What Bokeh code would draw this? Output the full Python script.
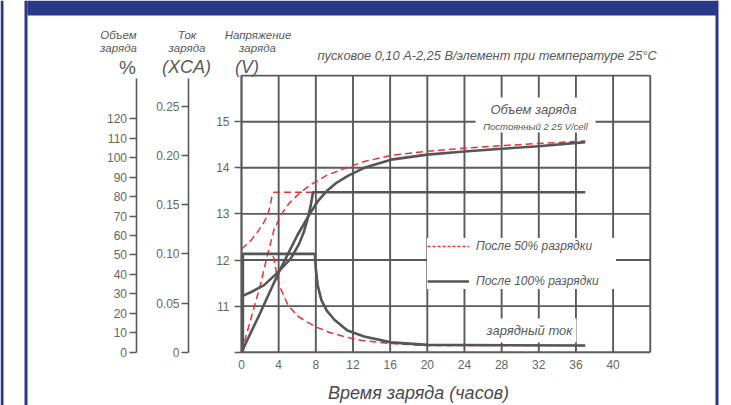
from bokeh.plotting import figure
from bokeh.models import (Range1d, LinearAxis, FixedTicker, PrintfTickFormatter,
                          BoxAnnotation, Label, Legend, LegendItem)
from bokeh.embed import file_html
from bokeh.resources import INLINE

# ---------------- data ----------------
hour_ticks = [0, 4, 8, 12, 16, 20, 24, 28, 32, 36, 40]
grid_hours = [0, 4, 8, 12, 16, 20, 24, 28, 32, 36, 40, 44]
grid_volts = [10, 11, 12, 13, 14, 15, 16]
volt_ticks = [10, 11, 12, 13, 14, 15]
amp_ticks = [0, 0.05, 0.10, 0.15, 0.20, 0.25]
pct_ticks = [0, 10, 20, 30, 40, 50, 60, 70, 80, 90, 100, 110, 120]

# charging voltage (V)
t_volt_100 = [0, 1.0, 2.4, 3.85, 5.3, 6.2, 6.7, 7.1, 7.45, 7.7, 37]
volt_100 = [11.21, 11.3, 11.45, 11.72, 12.03, 12.35, 12.6, 12.88, 13.18, 13.47, 13.47]
t_volt_50 = [0, 1.0, 1.7, 2.3, 2.8, 3.05, 3.3, 3.5, 23]
volt_50 = [12.24, 12.42, 12.6, 12.78, 12.96, 13.15, 13.4, 13.47, 13.47]

# charge volume (%)
t_pct_100 = [0, 2, 4, 6, 7.2, 8.2, 9.2, 10.2, 11.4, 13.2, 16.1, 20, 24, 28, 32, 37]
pct_100 = [0, 20, 41, 60, 70, 77.5, 83, 87, 90.5, 94.8, 99, 101.6, 103.2, 104.6, 105.9, 108]
t_pct_50 = [0, 1, 2, 2.8, 3.5, 4.3, 5.2, 6.2, 7.4, 9.2, 11.4, 13.2, 16.1, 20, 24, 28, 32, 37]
pct_50 = [0, 17, 34, 50, 63, 71, 77, 81.5, 86, 91, 95, 98, 101.2, 103.3, 104.9, 106.2, 107.3, 108.6]

# charging current (CA)
t_amp_100 = [0.15, 0.15, 7.9, 8.0, 8.2, 8.6, 9.2, 10.0, 11.4, 13.2, 16.1, 20, 37]
amp_100 = [0, 0.10, 0.10, 0.085, 0.068, 0.053, 0.042, 0.033, 0.022, 0.016, 0.010, 0.0075, 0.0068]
t_amp_50 = [0, 3.3, 3.5, 3.85, 4.2, 5.0, 6.0, 7.0, 8.2, 9.5, 11.4, 13.0, 15.7, 20, 37]
amp_50 = [0.10, 0.10, 0.095, 0.076, 0.065, 0.048, 0.037, 0.031, 0.025, 0.020, 0.015, 0.012, 0.009, 0.0068, 0.0068]

# ---------------- layout helpers (page pixels -> data) ----------------
W, H = 731, 405
X0, PX_H = 241.0, 9.29
Y0, PX_V = 351.7, 46.1
PX_PCT, PX_AMP = 1.945, 982.8


def tx(px):
    return (px - X0) / PX_H


def vy(py):
    return 10 + (Y0 - py) / PX_V


def pct_of(py):
    return (Y0 - py) / PX_PCT


def amp_of(py):
    return (Y0 - py) / PX_AMP


BLUE = "#283a87"
GRID = "#5a5a5a"
CURVE = "#555555"
RED = "#e8323a"
TXT = "#595959"
FONT = "Liberation Sans"

p = figure(width=W, height=H,
           x_range=Range1d(tx(0), tx(W)),
           y_range=Range1d(vy(H), vy(0)),
           output_backend="svg", toolbar_location=None,
           x_axis_location=None, y_axis_location=None,
           min_border=0, outline_line_color=None,
           background_fill_color="white", border_fill_color="white")
p.extra_y_ranges = {
    "pct": Range1d(pct_of(H), pct_of(0)),
    "amp": Range1d(amp_of(H), amp_of(0)),
}
p.grid.visible = False

# grid
nv = len(grid_hours)
p.segment(x0=grid_hours, y0=[grid_volts[0]] * nv, x1=grid_hours, y1=[grid_volts[-1]] * nv,
          line_color=GRID, line_width=1.9)
nh = len(grid_volts)
p.segment(x0=[grid_hours[0]] * nh, y0=grid_volts, x1=[grid_hours[-1]] * nh, y1=grid_volts,
          line_color=GRID, line_width=1.9)

# curves
dash = "7 4"
p.line(t_volt_50, volt_50, line_color=RED, line_width=1.5, line_dash=dash)
p.line(t_pct_50, pct_50, y_range_name="pct", line_color=RED, line_width=1.5, line_dash=dash)
p.line(t_amp_50, amp_50, y_range_name="amp", line_color=RED, line_width=1.5, line_dash=dash)
p.line(t_volt_100, volt_100, line_color=CURVE, line_width=2.6, line_join="round")
p.line(t_pct_100, pct_100, y_range_name="pct", line_color=CURVE, line_width=2.6, line_join="round")
p.line(t_amp_100, amp_100, y_range_name="amp", line_color=CURVE, line_width=2.6, line_join="round")


def style_axis(ax):
    ax.axis_line_color = GRID
    ax.axis_line_width = 1.6
    ax.major_tick_line_color = GRID
    ax.major_tick_line_width = 1.5
    ax.major_tick_out = 7
    ax.major_tick_in = 0
    ax.minor_tick_line_color = None
    ax.major_label_text_font = FONT
    ax.major_label_text_font_size = "12px"
    ax.major_label_text_color = "#666666"


ax_v = LinearAxis(fixed_location=0, ticker=FixedTicker(ticks=volt_ticks),
                  bounds=(10, 16), major_label_overrides={10: ""})
style_axis(ax_v)
ax_v.major_label_standoff = 5
p.add_layout(ax_v, "left")

ax_a = LinearAxis(y_range_name="amp", fixed_location=tx(188),
                  ticker=FixedTicker(ticks=amp_ticks),
                  formatter=PrintfTickFormatter(format="%.2f"),
                  major_label_overrides={0: "0"}, bounds=(0, amp_of(78)))
style_axis(ax_a)
ax_a.major_label_standoff = 2
p.add_layout(ax_a, "left")

ax_p = LinearAxis(y_range_name="pct", fixed_location=tx(135.5),
                  ticker=FixedTicker(ticks=pct_ticks), bounds=(0, pct_of(78)))
style_axis(ax_p)
ax_p.major_label_standoff = 2
p.add_layout(ax_p, "left")

ax_x = LinearAxis(fixed_location=10, ticker=FixedTicker(ticks=hour_ticks))
style_axis(ax_x)
ax_x.axis_line_color = None
ax_x.major_tick_line_color = None
ax_x.major_tick_out = 0
ax_x.major_label_standoff = 8
p.add_layout(ax_x, "below")

# frame decorations
p.add_layout(BoxAnnotation(left=tx(27), right=tx(717), bottom=vy(15),
                           fill_color=BLUE, fill_alpha=1, line_color=None))
for l, r in [(0, 3), (24, 27), (715, 718)]:
    p.add_layout(BoxAnnotation(left=tx(l), right=tx(r), fill_color=BLUE, fill_alpha=1, line_color=None))

# white boxes behind in-plot texts
for l, r, t, b in [(475, 595, 97, 132), (484, 576, 318, 342)]:
    p.add_layout(BoxAnnotation(left=tx(l), right=tx(r), top=vy(t), bottom=vy(b),
                               fill_color="white", fill_alpha=1, line_color=None))


def label(px, py, text, size, style="italic", align="center", color=TXT, baseline="middle"):
    p.add_layout(Label(x=tx(px), y=vy(py), text=text, text_align=align,
                       text_baseline=baseline, text_font=FONT, text_font_size=size,
                       text_font_style=style, text_color=color))


label(118, 34, "Объем", "11.5px")
label(118, 47.5, "заряда", "11.5px")
label(127, 66.5, "%", "19px", style="normal")
label(186.5, 34, "Ток", "11.5px")
label(186.5, 47.5, "заряда", "11.5px")
label(186, 66.5, "(XCA)", "18px")
label(257.5, 34, "Напряжение", "11.5px")
label(257, 47.5, "заряда", "11.5px")
label(246.5, 66.5, "(V)", "18px")
label(317, 55, "пусковое 0,10 A-2,25 B/элемент при температуре 25°C", "12.8px", align="left")
label(533, 109, "Объем заряда", "13px")
label(535, 126, "Постоянный 2 25 V/cell", "9.5px")
label(529, 330, "зарядный ток", "13px")
label(418, 392, "Время заряда (часов)", "18px", color="#4a4a4a")

# legend (sample-only renderers, nothing drawn in the plot)
nan = float("nan")
r50 = p.line([nan], [nan], line_color=RED, line_width=1.3, line_dash="3 2")
r100 = p.line([nan], [nan], line_color=CURVE, line_width=2.6)
legend = Legend(items=[LegendItem(label="После 50% разрядки", renderers=[r50]),
                       LegendItem(label="После 100% разрядки", renderers=[r100])],
                location=(427, H - 289),
                padding=4, spacing=19, glyph_width=42, glyph_height=16, label_height=16,
                label_width=140, label_standoff=7,
                label_text_font=FONT, label_text_font_size="12px",
                label_text_font_style="italic", label_text_color=TXT,
                border_line_color=None, background_fill_color="white", background_fill_alpha=1)
p.add_layout(legend)

open("out.html", "w").write(file_html(p, INLINE))
